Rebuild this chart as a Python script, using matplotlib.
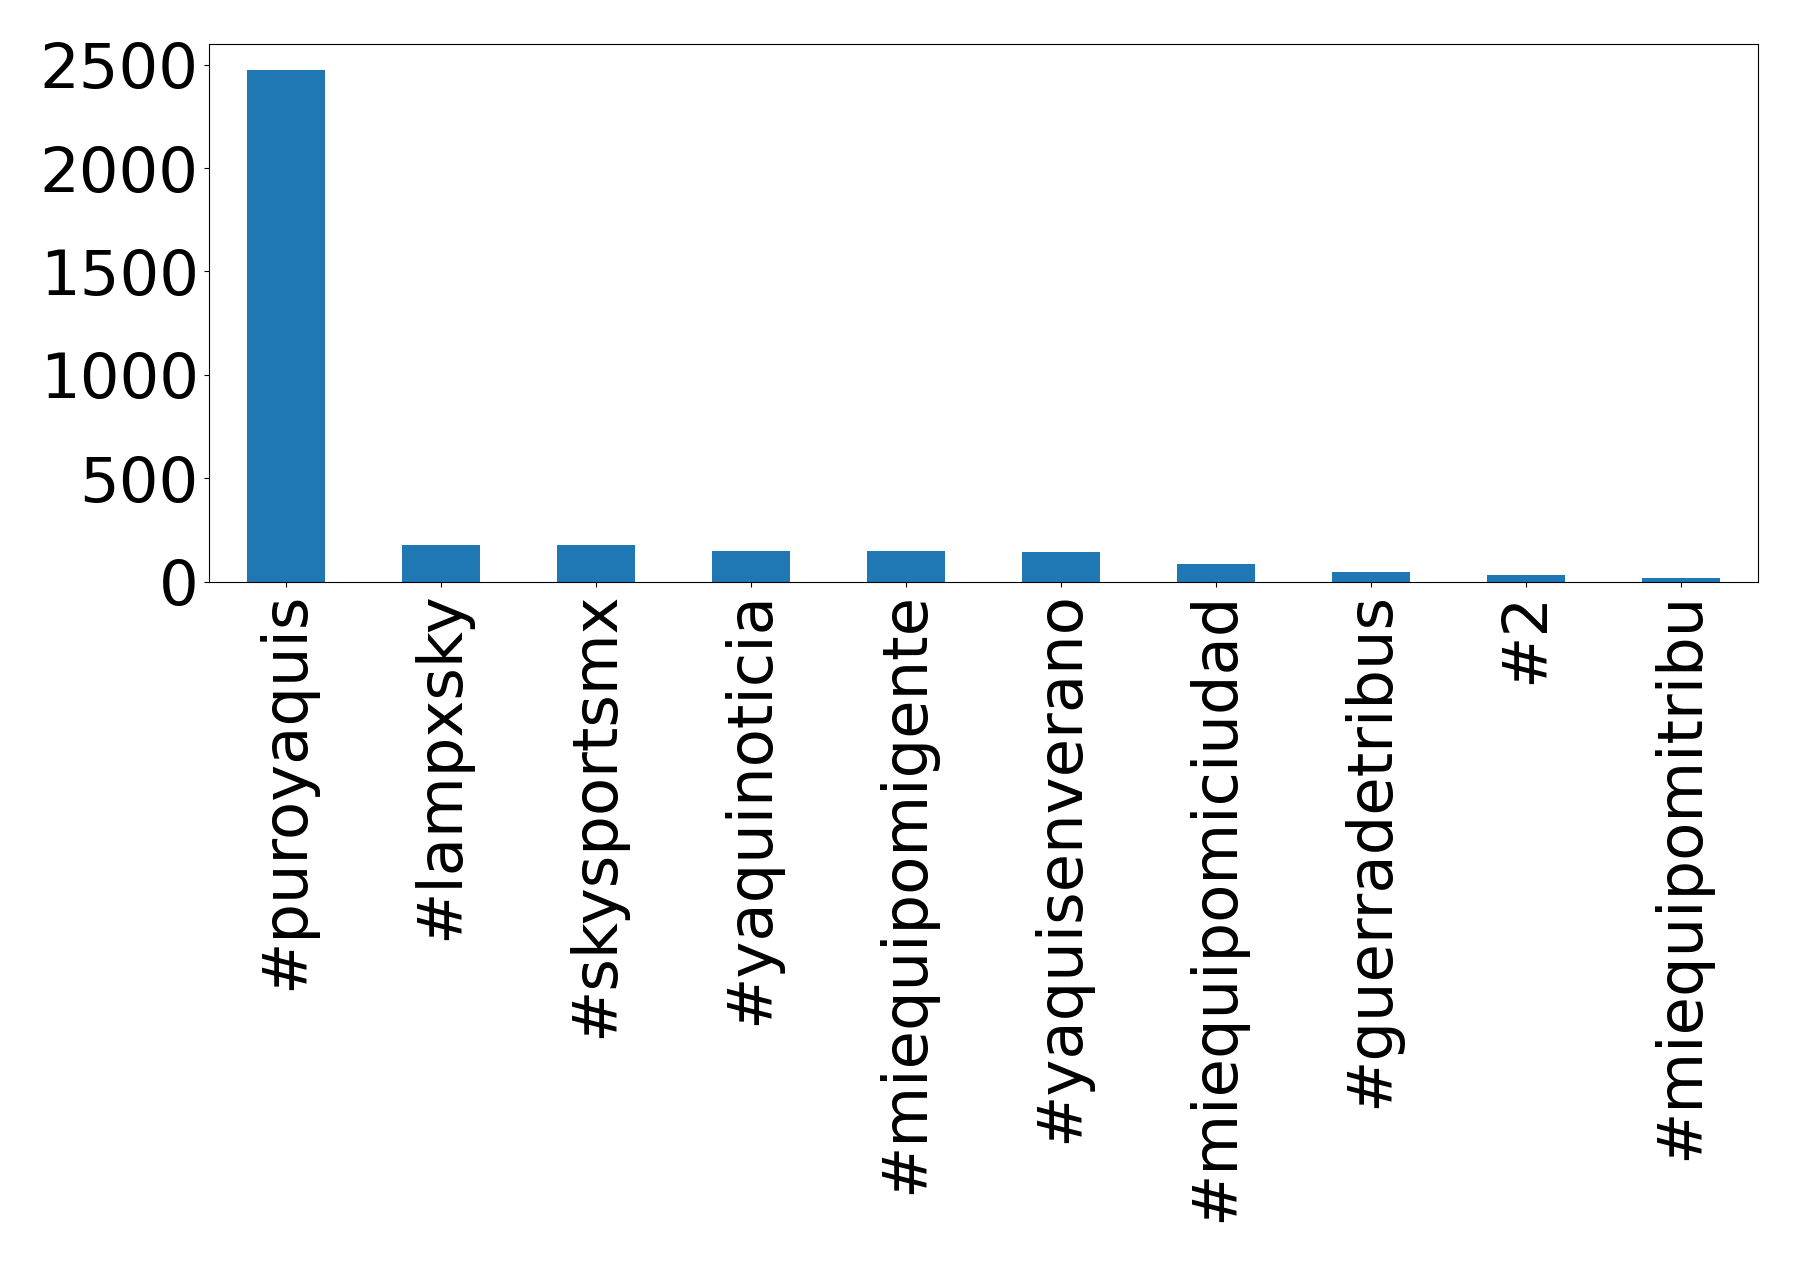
import matplotlib
matplotlib.use("Agg")
import matplotlib.pyplot as plt
from matplotlib.ticker import MultipleLocator

hashtags = ["#puroyaquis", "#lampxsky", "#skysportsmx", "#yaquinoticia",
            "#miequipomigente", "#yaquisenverano", "#miequipomiciudad",
            "#guerradetribus", "#2", "#miequipomitribu"]
conteos = [2475, 178, 178, 150, 150, 145, 87, 48, 34, 19]

fig = plt.figure(figsize=(17.98, 12.62), dpi=100)
ax = fig.add_axes([0.116, 0.539, 0.862, 0.426])

pos = list(range(len(hashtags)))
ax.bar(pos, conteos, width=0.5, color="#1f77b4")
ax.set_xlim(-0.5, len(hashtags) - 0.5)
ax.set_ylim(0, max(conteos) * 1.05)
ax.yaxis.set_major_locator(MultipleLocator(500))
ax.set_xticks(pos)
ax.set_xticklabels(hashtags, rotation=90)
ax.tick_params(axis="both", labelsize=45)

fig.savefig("out.png", dpi=100)
